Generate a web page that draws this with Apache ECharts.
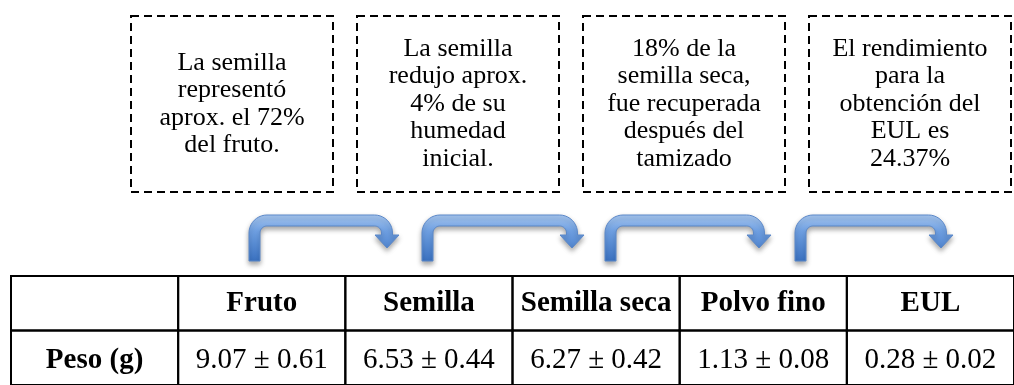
<!DOCTYPE html>
<html>
<head>
<meta charset="utf-8">
<script src="https://cdn.jsdelivr.net/npm/echarts@6/dist/echarts.min.js"></script>
<style>
  html, body { margin: 0; padding: 0; background: #ffffff; }
  #chart { width: 1014px; height: 385px; }
</style>
</head>
<body>
<div id="chart"></div>
<script>
// ---- data ----
const stages = ['Fruto', 'Semilla', 'Semilla seca', 'Polvo fino', 'EUL'];
const rowLabel = 'Peso (g)';
const pesoMean = [9.07, 6.53, 6.27, 1.13, 0.28];
const pesoSD = [0.61, 0.44, 0.42, 0.08, 0.02];
const notes = [
  'La semilla\nrepresentó\naprox. el 72%\ndel fruto.',
  'La semilla\nredujo aprox.\n4% de su\nhumedad\ninicial.',
  '18% de la\nsemilla seca,\nfue recuperada\ndespués del\ntamizado',
  'El rendimiento\npara la\nobtención del\nEUL es\n24.37%'
];

// ---- table cells built from the data ----
const columns = [''].concat(stages);
const rows = ['header', rowLabel];
const cells = [];
columns.forEach(function (c, i) { cells.push({ col: i, row: 0, text: c, bold: true }); });
cells.push({ col: 0, row: 1, text: rowLabel, bold: true });
pesoMean.forEach(function (m, i) {
  cells.push({ col: i + 1, row: 1, text: m.toFixed(2) + ' ± ' + pesoSD[i].toFixed(2), bold: false });
});

const SERIF = '"Liberation Serif", "Times New Roman", serif';

// ---- layout of the note boxes and arrows ----
const boxLeft0 = 131, boxStep = 226, boxW = 202, boxTop = 16, boxH = 176;
const arrowLeft = [249, 422, 605, 795];
const arrowHead = [387, 572, 759, 941];

function arcPts(cx, cy, r, a0, a1, n) {
  const pts = [];
  for (let i = 0; i <= n; i++) {
    const a = a0 + (a1 - a0) * i / n;
    pts.push([cx + r * Math.cos(a), cy + r * Math.sin(a)]);
  }
  return pts;
}

function arrowPoints(x0, xh) {
  const T = 215, W = 11, B = 261, R1 = 18, r1 = R1 - W, Ro = 18, ri = Ro - W;
  const HB = 235, HT = 248, HW = 12, N = 10, PI = Math.PI;
  const xr = xh + W / 2, xl = xh - W / 2;
  let pts = [[x0, B]];
  pts = pts.concat(arcPts(x0 + R1, T + R1, R1, PI, 1.5 * PI, N));
  pts = pts.concat(arcPts(xr - Ro, T + Ro, Ro, -0.5 * PI, 0, N));
  pts.push([xr, HB], [xh + HW, HB], [xh, HT], [xh - HW, HB], [xl, HB]);
  pts = pts.concat(arcPts(xl - ri, T + W + ri, ri, 0, -0.5 * PI, N));
  pts = pts.concat(arcPts(x0 + W + r1, T + W + r1, r1, 1.5 * PI, PI, N));
  pts.push([x0 + W, B]);
  return pts;
}

const graphics = [];
notes.forEach(function (t, i) {
  const x = boxLeft0 + i * boxStep;
  graphics.push({
    type: 'rect',
    shape: { x: x, y: boxTop, width: boxW, height: boxH },
    style: { fill: 'none', stroke: '#000', lineWidth: 2, lineDash: [8, 5] }
  });
  graphics.push({
    type: 'text',
    style: {
      x: x + boxW / 2, y: boxTop + boxH / 2,
      text: t, fill: '#000',
      font: '26px ' + SERIF,
      align: 'center', verticalAlign: 'middle', lineHeight: 27.5
    }
  });
});
arrowLeft.forEach(function (x0, i) {
  graphics.push({
    type: 'polygon',
    shape: { points: arrowPoints(x0, arrowHead[i]) },
    style: {
      fill: {
        type: 'linear', x: 0, y: 0, x2: 0, y2: 1,
        colorStops: [
          { offset: 0, color: '#a9c9f3' },
          { offset: 0.35, color: '#6fa0e2' },
          { offset: 1, color: '#3a72c2' }
        ]
      },
      stroke: '#5b88c9', lineWidth: 1,
      shadowBlur: 5, shadowOffsetY: 3, shadowColor: 'rgba(0,0,0,0.35)'
    }
  });
});

const chart = echarts.init(document.getElementById('chart'), null, { renderer: 'canvas' });
chart.setOption({
  backgroundColor: '#ffffff',
  animation: false,
  grid: { left: 11, top: 276, width: 1015, height: 110 },
  xAxis: { type: 'category', data: columns, show: false },
  yAxis: { type: 'category', data: rows, inverse: true, show: false },
  graphic: graphics,
  series: [{
    type: 'custom',
    data: cells.map(function (c) { return [c.col, c.row]; }),
    encode: { x: 0, y: 1 },
    renderItem: function (params, api) {
      const cell = cells[params.dataIndex];
      const p = api.coord([api.value(0), api.value(1)]);
      const s = api.size([1, 1]);
      return {
        type: 'group',
        children: [
          {
            type: 'rect',
            shape: { x: p[0] - s[0] / 2, y: p[1] - s[1] / 2, width: s[0], height: s[1] },
            style: { fill: 'none', stroke: '#000', lineWidth: 2 }
          },
          {
            type: 'text',
            style: {
              x: p[0], y: p[1] + (cell.row === 1 ? 3 : 0),
              text: cell.text, fill: '#000',
              font: (cell.bold ? 'bold ' : '') + '29px ' + SERIF,
              align: 'center', verticalAlign: 'middle'
            }
          }
        ]
      };
    }
  }]
});
</script>
</body>
</html>
